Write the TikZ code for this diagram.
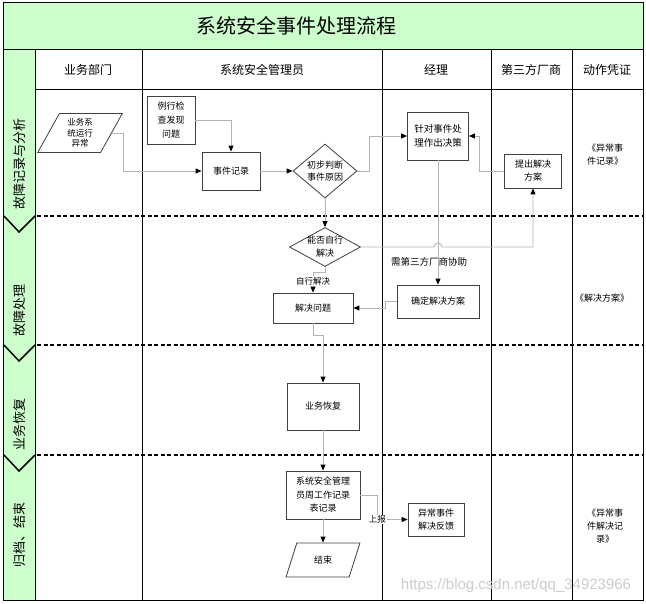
\documentclass[tikz,border=0pt]{standalone}
\usepackage{fontspec}
\newfontfamily\cjk{Noto Sans CJK SC}
\newfontfamily\wmfont{Liberation Sans}
\usetikzlibrary{shapes.geometric,arrows.meta,calc}
\definecolor{lanegreen}{HTML}{CCFFCC}
\definecolor{linegray}{HTML}{B4B4B4}

\begin{document}
\begin{tikzpicture}[x=1pt,y=-1pt,
    every node/.style={font=\cjk\fontsize{9}{13}\selectfont,align=center},
    box/.style={draw=black!75,fill=white,line width=0.8pt,inner sep=1pt},
    io/.style={draw=black!75,fill=white,line width=0.8pt,trapezium,trapezium left angle=65,
        trapezium right angle=115,trapezium stretches=true,inner sep=0pt},
    dia/.style={draw=black!75,fill=white,line width=0.8pt,diamond,inner sep=0pt},
    ln/.style={draw=linegray,line width=0.9pt,-{Triangle[color=black,length=6pt,width=5pt]}},
    lbl/.style={fill=white,inner sep=1pt,font=\cjk\fontsize{8.5}{10}\selectfont},
    lane/.style={font=\cjk\fontsize{13}{15}\selectfont,rotate=90},
    head/.style={font=\cjk\fontsize{12}{14}\selectfont},
    sep/.style={line width=1.6pt,dash pattern=on 4pt off 2.5pt}]
\useasboundingbox (0,0) rectangle (646,604);
% frame and lanes
\fill[lanegreen] (3,3) rectangle (643,49);
\fill[lanegreen] (3,49) rectangle (35,600);
\draw[line width=1pt] (3,3) rectangle (643,600);
\draw (3,49) -- (643,49);
\draw (35,89) -- (643,89);
\foreach \x in {35,142,382,491,572} \draw (\x,49) -- (\x,600);
\foreach \y in {216,345,455} {
  \draw[sep] (37,\y) -- (643,\y);
  \draw[line width=1.5pt] (4,\y) -- (19,\y+16) -- (35,\y);
}
\node[font=\cjk\fontsize{20}{24}\selectfont] (title) at (296,26) {系统安全事件处理流程};
\node[head] (h1) at (88,70) {业务部门};
\node[head] (h2) at (262,70) {系统安全管理员};
\node[head] (h3) at (436,70) {经理};
\node[head] (h4) at (531,70) {第三方厂商};
\node[head] (h5) at (607,70) {动作凭证};
\node[lane] (l1) at (20,164) {故障记录与分析};
\node[lane] (l2) at (20,311) {故障处理};
\node[lane] (l3) at (20,424) {业务恢复};
\node[lane] (l4) at (20,535) {归档、结束};

% steps
\node[io,minimum width=85pt,minimum height=39pt,font=\cjk\fontsize{8.5}{10.5}\selectfont] (abn) at (80,133) {业务系\\统运行\\异常};
\node[box,minimum width=48pt,minimum height=48pt,font=\cjk\fontsize{9}{14}\selectfont] (chk) at (171,120) {例行检\\查发现\\问题};
\node[box,minimum width=58pt,minimum height=38pt] (rec) at (231,171) {事件记录};
\node[dia,aspect=1.2,minimum width=64pt,minimum height=54pt,font=\cjk\fontsize{9}{12}\selectfont] (jdg) at (325,171) {初步判断\\事件原因};
\node[box,minimum width=61pt,minimum height=48pt,font=\cjk\fontsize{9.5}{14}\selectfont] (dec) at (438,136) {针对事件处\\理作出决策};
\node[box,minimum width=57pt,minimum height=34pt] (vnd) at (533,171) {提出解决\\方案};
\node (doc1) at (605,155) {《异常事\\件记录》};
\node[dia,aspect=2.4,inner sep=-3pt,minimum width=71pt,minimum height=39pt] (ask) at (325,247) {能否自行\\解决};
\node[font=\cjk\fontsize{9.5}{11}\selectfont] (lb2) at (429,262) {需第三方厂商协助};
\node[box,minimum width=80pt,minimum height=30pt] (slv) at (313,308) {解决问题};
\node[box,minimum width=82pt,minimum height=33pt] (cfm) at (438,301.5) {确定解决方案};
\node (doc2) at (602,298) {《解决方案》};
\node[box,minimum width=72pt,minimum height=47pt] (rcv) at (323,406.5) {业务恢复};
\node[box,minimum width=74pt,minimum height=48pt,font=\cjk\fontsize{9}{13.5}\selectfont] (wk) at (323,495) {系统安全管理\\员周工作记录\\表记录};
\node[box,minimum width=56pt,minimum height=33pt] (fb) at (436,519.5) {异常事件\\解决反馈};
\node[io,minimum width=74pt,minimum height=34pt,trapezium left angle=66,trapezium right angle=114] (fin) at (323,560) {结束};
\node (doc3) at (605,526) {《异常事\\件解决记\\录》};
\node[text=gray!40,font=\wmfont\fontsize{15}{17}\selectfont] (wm) at (516,586) {https://blog.csdn.net/qq\_34923966};

% connectors
\draw[ln] (abn.east) -- ++(12,0) |- (rec.west);
\draw[ln] (chk.east) -| (rec.north);
\draw[ln] (rec) -- (jdg);
\draw[ln] (jdg.east) -- ++(12,0) |- (dec.west);
\draw[ln] (vnd.west) -- ++(-25,0) |- (dec.east);
\draw[ln] (jdg) -- (ask);
\draw[ln] (dec) -- (cfm);
\draw[ln] (ask.east) -- ($(ask.east -| dec.south)+(-4,0)$) arc[start angle=180,end angle=360,radius=4] -| (vnd.south);
\draw[ln] (ask.south) -- ++(0,6) -| node[pos=0.7,lbl]{自行解决} (slv.north);
\draw[ln] (cfm.west) -- ++(-11,0) |- (slv.east);
\draw[ln] (slv.south) -- ++(0,12) -| (rcv.north);
\draw[ln] (rcv) -- (wk);
\draw[ln] (wk) -- (fin);
\draw[ln] (wk.east) -- ++(17,0) |- node[pos=0.5,lbl]{上报} (fb.west);
\end{tikzpicture}
\end{document}
